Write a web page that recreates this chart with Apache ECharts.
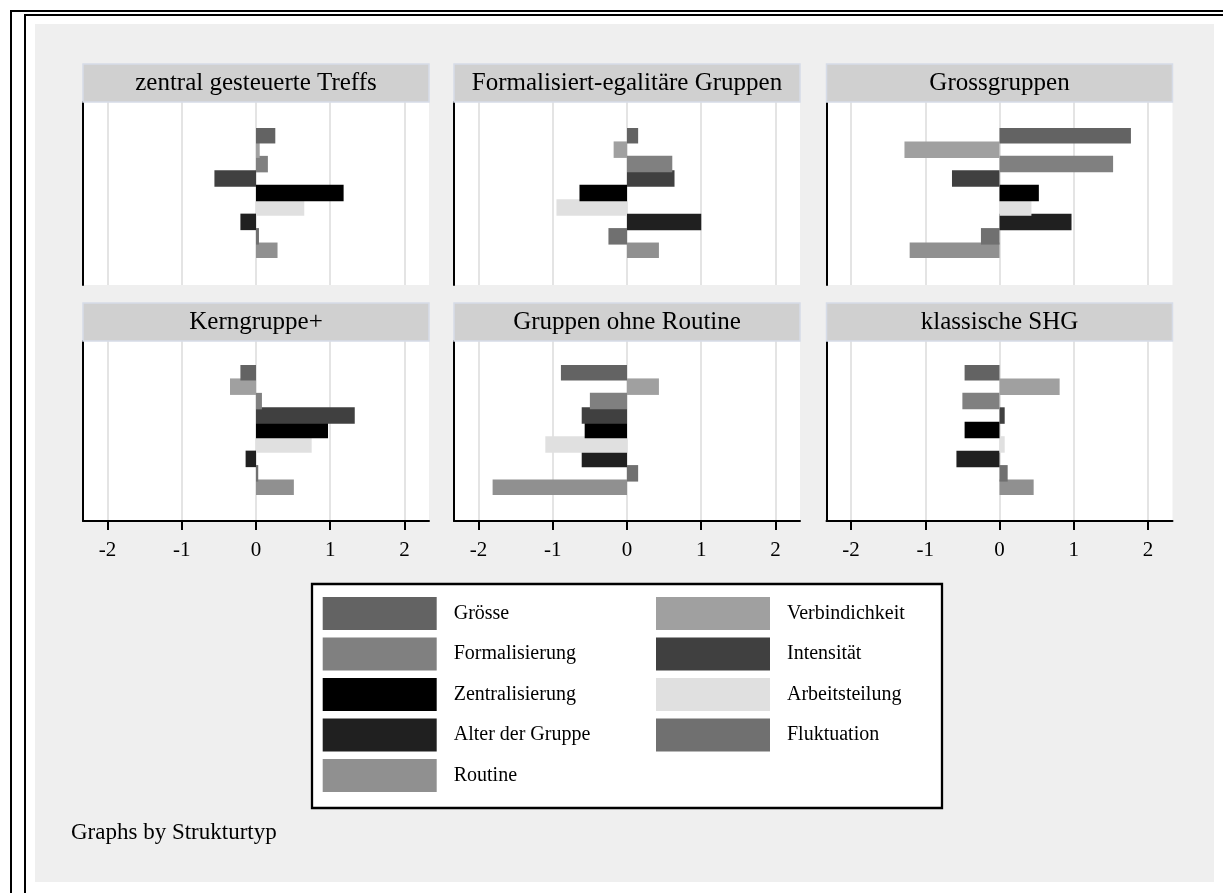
<!DOCTYPE html>
<html>
<head>
<meta charset="utf-8">
<script src="https://cdn.jsdelivr.net/npm/echarts@6/dist/echarts.min.js"></script>
<style>
  html, body { margin: 0; padding: 0; background: #fff; }
  #chart { width: 1223px; height: 893px; }
</style>
</head>
<body>
<div id="chart"></div>
<script>
// Kategorien (Balken von oben nach unten) und ihre Graustufen
const categories = ['Grösse', 'Verbindichkeit', 'Formalisierung', 'Intensität', 'Zentralisierung',
  'Arbeitsteilung', 'Alter der Gruppe', 'Fluktuation', 'Routine'];
const colors = ['#636363', '#a0a0a0', '#808080', '#404040', '#000000',
  '#e0e0e0', '#202020', '#707070', '#909090'];

const panelTitles = ['zentral gesteuerte Treffs', 'Formalisiert-egalitäre Gruppen', 'Grossgruppen',
  'Kerngruppe+', 'Gruppen ohne Routine', 'klassische SHG'];

// Werte je Strukturtyp, Reihenfolge wie categories
const zentralGesteuert = [0.26, 0.05, 0.16, -0.56, 1.18, 0.65, -0.21, 0.04, 0.29];
const formalEgalitaer = [0.15, -0.18, 0.61, 0.64, -0.64, -0.95, 1.00, -0.25, 0.43];
const grossgruppen = [1.77, -1.28, 1.53, -0.64, 0.53, 0.43, 0.97, -0.25, -1.21];
const kerngruppe = [-0.21, -0.35, 0.08, 1.33, 0.97, 0.75, -0.14, 0.03, 0.51];
const ohneRoutine = [-0.89, 0.43, -0.50, -0.61, -0.57, -1.10, -0.61, 0.15, -1.81];
const klassischeShg = [-0.47, 0.81, -0.50, 0.07, -0.47, 0.07, -0.58, 0.11, 0.46];
const panelValues = [zentralGesteuert, formalEgalitaer, grossgruppen, kerngruppe, ohneRoutine, klassischeShg];

const xTicks = [-2, -1, 0, 1, 2];

const FONT = 'Liberation Serif';
const colLeft = [83, 454, 826.5];
const panelW = 346;
const titleTop = [64, 303];
const titleH = 38;
const plotTop = [102, 341];
const plotH = [183, 180];
const barTop = [128, 365];
const barAreaH = 130;

const grid = [], xAxis = [], yAxis = [], series = [], graphic = [];

// Hintergrund und Rahmen
graphic.push({ type: 'rect', z: -10, shape: { x: 35, y: 24, width: 1179, height: 858 }, style: { fill: '#efefef' } });
graphic.push({ type: 'line', z: 5, shape: { x1: 11, y1: 10, x2: 11, y2: 893 }, style: { stroke: '#000', lineWidth: 2 } });
graphic.push({ type: 'line', z: 5, shape: { x1: 25, y1: 14, x2: 25, y2: 893 }, style: { stroke: '#000', lineWidth: 2 } });
graphic.push({ type: 'line', z: 5, shape: { x1: 10, y1: 11, x2: 1223, y2: 11 }, style: { stroke: '#000', lineWidth: 2 } });
graphic.push({ type: 'line', z: 5, shape: { x1: 24, y1: 15, x2: 1223, y2: 15 }, style: { stroke: '#000', lineWidth: 2 } });

panelValues.forEach((vals, i) => {
  const r = Math.floor(i / 3), c = i % 3;
  const left = colLeft[c];

  // Titelbox
  graphic.push({ type: 'rect', z: 1, shape: { x: left, y: titleTop[r], width: panelW, height: titleH },
    style: { fill: '#d0d0d0', stroke: '#d6dce8', lineWidth: 1.5 } });
  graphic.push({ type: 'text', z: 2, x: left + panelW / 2, y: titleTop[r] + titleH / 2,
    style: { text: panelTitles[i], font: '25px "' + FONT + '"', fill: '#000', align: 'center', verticalAlign: 'middle' } });

  // Rahmen-Grid mit Gitterlinien und Achsen
  grid.push({ left: left, top: plotTop[r], width: panelW, height: plotH[r], show: true, backgroundColor: '#fff', borderWidth: 0 });
  xAxis.push({
    gridIndex: 2 * i, type: 'value', min: -2.33, max: 2.33,
    axisLine: { show: r === 1, onZero: false, lineStyle: { color: '#000', width: 2 } },
    axisTick: { show: r === 1, customValues: xTicks, length: 9, lineStyle: { color: '#000', width: 2 } },
    axisLabel: { show: r === 1, customValues: xTicks, margin: 19, fontSize: 21, fontFamily: FONT, color: '#000' },
    splitLine: { show: true, lineStyle: { color: '#e4e4e4', width: 2 } }
  });
  yAxis.push({
    gridIndex: 2 * i, type: 'value', min: 0, max: 1,
    axisLine: { show: true, onZero: false, lineStyle: { color: '#000', width: 2 } },
    axisTick: { show: false }, axisLabel: { show: false }, splitLine: { show: false }
  });

  // Balken-Grid
  grid.push({ left: left, top: barTop[r], width: panelW, height: barAreaH });
  xAxis.push({ gridIndex: 2 * i + 1, type: 'value', min: -2.33, max: 2.33, show: false });
  yAxis.push({ gridIndex: 2 * i + 1, type: 'category', data: categories, inverse: true, show: false });

  // obere Balken zuletzt zeichnen
  for (let k = categories.length - 1; k >= 0; k--) {
    series.push({
      type: 'bar', name: categories[k],
      xAxisIndex: 2 * i + 1, yAxisIndex: 2 * i + 1,
      data: categories.map((cat, j) => j === k ? vals[k] : '-'),
      barWidth: 16.5, barGap: '-100%',
      itemStyle: { color: colors[k] },
      silent: true
    });
  }
});

// Legendenkasten
graphic.push({ type: 'rect', z: 1, shape: { x: 312, y: 584, width: 630, height: 224 },
  style: { fill: '#fff', stroke: '#000', lineWidth: 2.3 } });
graphic.push({ type: 'text', z: 2, x: 71, y: 833,
  style: { text: 'Graphs by Strukturtyp', font: '23px "' + FONT + '"', fill: '#000', verticalAlign: 'middle' } });

const legendBase = {
  orient: 'vertical', icon: 'rect', itemWidth: 114, itemHeight: 33, itemGap: 7.5,
  selectedMode: false, top: 592,
  textStyle: { fontFamily: FONT, fontSize: 20, color: '#000', padding: [0, 0, 0, 12] }
};

const chart = echarts.init(document.getElementById('chart'));
chart.setOption({
  animation: false,
  backgroundColor: '#fff',
  grid: grid,
  xAxis: xAxis,
  yAxis: yAxis,
  legend: [
    Object.assign({}, legendBase, { left: 317.7, data: ['Grösse', 'Formalisierung', 'Zentralisierung', 'Alter der Gruppe', 'Routine'] }),
    Object.assign({}, legendBase, { left: 651, data: ['Verbindichkeit', 'Intensität', 'Arbeitsteilung', 'Fluktuation'] })
  ],
  graphic: graphic,
  series: series
});
</script>
</body>
</html>
